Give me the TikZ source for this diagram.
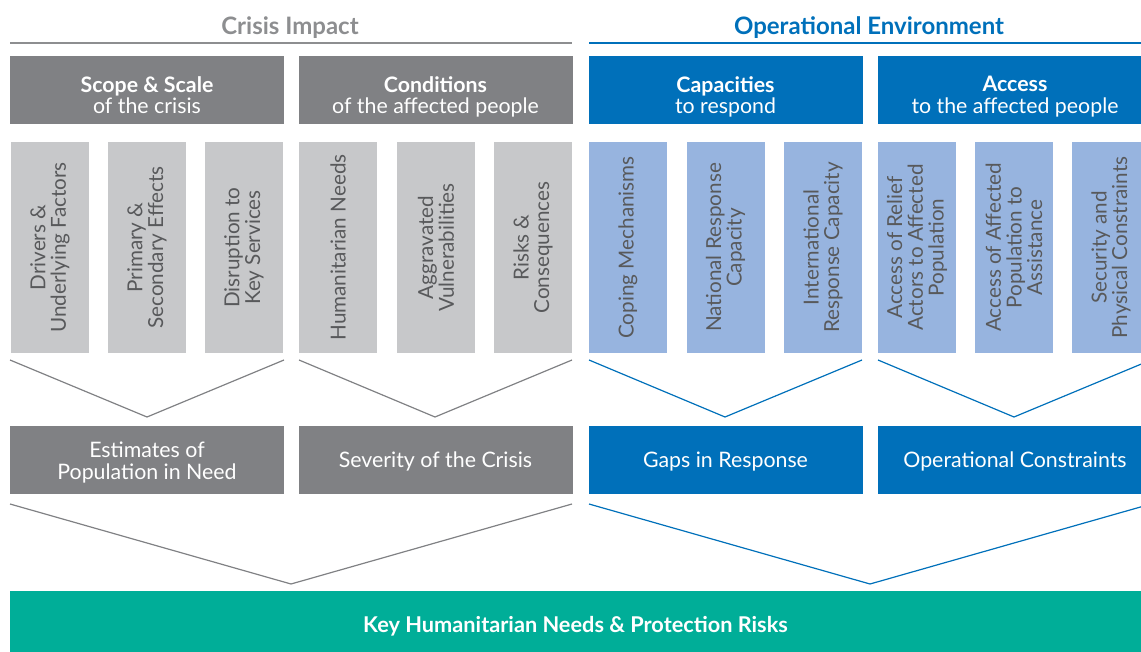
\documentclass[tikz,border=0pt]{standalone}
\usepackage{fontspec}
\setmainfont{Lato}

\definecolor{darkbox}{HTML}{808184}
\definecolor{lightbox}{HTML}{C7C8CA}
\definecolor{bluebox}{HTML}{0070BA}
\definecolor{paleblue}{HTML}{97B4DF}
\definecolor{tealbox}{HTML}{00AE98}
\definecolor{headgray}{HTML}{8D8E90}
\definecolor{tallink}{HTML}{58595B}

% texto bajado dentro de la caja, sin cambiar su tamano
\newcommand{\lowered}[2]{\raisebox{-#1}[\height][\depth]{\begin{tabular}{@{}c@{}}#2\end{tabular}}}

\tikzset{
  headbox/.style={minimum width=205.5pt, minimum height=51pt, inner sep=0pt,
    align=center, text=white, font=\fontsize{16}{15}\selectfont},
  tallbox/.style={rotate=90, minimum width=158.25pt, minimum height=58.5pt,
    inner sep=0pt, align=center, text=tallink, font=\fontsize{15.5}{15.5}\selectfont},
  resultbox/.style={minimum width=205.5pt, minimum height=51pt, inner sep=0pt,
    align=center, text=white, font=\fontsize{16}{15.5}\selectfont},
  grayline/.style={draw=darkbox, line width=0.9pt},
  blueline/.style={draw=bluebox, line width=0.9pt}
}

\begin{document}
\begin{tikzpicture}[x=0.75pt, y=-0.75pt]

    \clip (0,0) rectangle (1141,652);

    % Titulos de las dos partes
    \node[font=\fontsize{18}{18}\selectfont\bfseries, text=headgray] (crisis) at (290,28) {Crisis Impact};
    \node[font=\fontsize{18}{18}\selectfont\bfseries, text=bluebox] (operational) at (869,28) {Operational Environment};
    \draw[draw=headgray, line width=1.5pt] (10,43) -- (572,43);
    \draw[draw=bluebox, line width=1.5pt] (589,43) -- (1152,43);

    % Cajas superiores
    \node[headbox, fill=darkbox] (scope) at (147,90) {\lowered{6pt}{\textbf{Scope \& Scale}\\of the crisis}};
    \node[headbox, fill=darkbox] (conditions) at (435.5,90) {\lowered{6pt}{\textbf{Conditions}\\of the affected people}};
    \node[headbox, fill=bluebox] (capacities) at (725.5,90) {\lowered{6pt}{\textbf{Capacities}\\to respond}};
    \node[headbox, fill=bluebox] (access) at (1015,90) {\lowered{6pt}{\textbf{Access}\\to the affected people}};

    % Cajas verticales
    \node[tallbox, fill=lightbox] (drivers) at (50,247.5) {Drivers \&\\Underlying Factors};
    \node[tallbox, fill=lightbox] (effects) at (147,247.5) {Primary \&\\Secondary Effects};
    \node[tallbox, fill=lightbox] (services) at (244,247.5) {Disruption to\\Key Services};
    \node[tallbox, fill=lightbox] (needs) at (338,247.5) {Humanitarian Needs};
    \node[tallbox, fill=lightbox] (vulner) at (436,247.5) {Aggravated\\Vulnerabilities};
    \node[tallbox, fill=lightbox] (risks) at (533,247.5) {Risks \&\\Consequences};
    \node[tallbox, fill=paleblue] (coping) at (628,247.5) {Coping Mechanisms};
    \node[tallbox, fill=paleblue] (national) at (725.5,247.5) {National Response\\Capacity};
    \node[tallbox, fill=paleblue] (international) at (823,247.5) {International\\Response Capacity};
    \node[tallbox, fill=paleblue] (relief) at (917,247.5) {Access of Relief\\Actors to Affected\\Population};
    \node[tallbox, fill=paleblue] (affected) at (1014,247.5) {Access of Affected\\Population to\\Assistance};
    \node[tallbox, fill=paleblue] (security) at (1111,247.5) {Security and\\Physical Constraints};

    % Puntos de las uves
    \coordinate (v1l) at (10,360);  \coordinate (v1) at (147,417);  \coordinate (v1r) at (284,360);
    \coordinate (v2l) at (299,360); \coordinate (v2) at (435,417);  \coordinate (v2r) at (572,360);
    \coordinate (v3l) at (589,360); \coordinate (v3) at (725,417);  \coordinate (v3r) at (862,360);
    \coordinate (v4l) at (878,360); \coordinate (v4) at (1014,417); \coordinate (v4r) at (1151,360);

    \draw[grayline] (v1l) -- (v1) -- (v1r);
    \draw[grayline] (v2l) -- (v2) -- (v2r);
    \draw[blueline] (v3l) -- (v3) -- (v3r);
    \draw[blueline] (v4l) -- (v4) -- (v4r);

    % Resultados
    \node[resultbox, fill=darkbox] (estimates) at (147,460) {\lowered{2.5pt}{Estimates of\\Population in Need}};
    \node[resultbox, fill=darkbox] (severity) at (435.5,460) {\lowered{2pt}{Severity of the Crisis}};
    \node[resultbox, fill=bluebox] (gaps) at (725.5,460) {\lowered{2pt}{Gaps in Response}};
    \node[resultbox, fill=bluebox] (constraints) at (1015,460) {\lowered{2pt}{Operational Constraints}};

    % Uves grandes
    \coordinate (w1l) at (10,504);  \coordinate (w1) at (291,584); \coordinate (w1r) at (572,504);
    \coordinate (w2l) at (589,504); \coordinate (w2) at (870,584); \coordinate (w2r) at (1151,504);

    \draw[grayline] (w1l) -- (w1) -- (w1r);
    \draw[blueline] (w2l) -- (w2) -- (w2r);

    % Caja final
    \node[fill=tealbox, minimum width=848.25pt, minimum height=46.5pt, inner sep=0pt,
      text=white, font=\fontsize{16.3}{16}\selectfont\bfseries] (key) at (575.5,622) {\lowered{4.5pt}{Key Humanitarian Needs \& Protection Risks}};

\end{tikzpicture}
\end{document}
